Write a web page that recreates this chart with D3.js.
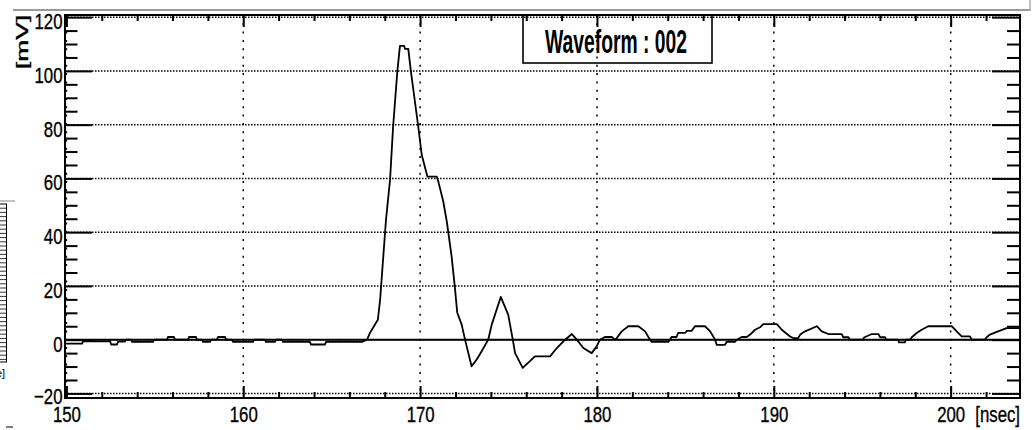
<!DOCTYPE html>
<html>
<head>
<meta charset="utf-8">
<script src="https://cdn.jsdelivr.net/npm/d3@7"></script>
<style>
  html, body { margin: 0; padding: 0; background: #fff; overflow: hidden; }
  svg { display: block; }
  text { font-family: "Liberation Sans", Arial, Helvetica, sans-serif; fill: #000; }
  text.lbl { stroke: #000; stroke-width: 0.35px; }
</style>
</head>
<body>
<svg id="canvas" width="1034" height="430"></svg>
<script>
// Sample times of the recorded waveform [nsec]
const waveTime = [
  149.92, 150.89, 150.94, 152.47, 152.53, 152.86, 152.92, 153.31, 153.37, 153.65,
  153.71, 154.90, 154.96, 155.69, 155.74, 156.08, 156.14, 156.88, 156.93, 157.33,
  157.38, 157.67, 157.72, 158.12, 158.17, 158.51, 158.57, 158.97, 159.03, 159.36,
  159.42, 160.55, 160.61, 161.23, 161.28, 161.79, 161.85, 162.19, 162.25, 163.77,
  163.83, 164.62, 164.68, 166.71, 167.00, 167.17, 167.61, 167.74, 168.07, 168.30,
  168.47, 168.71, 168.86, 169.10, 169.14, 169.33, 169.48, 169.90, 170.09, 170.41,
  170.94, 171.03, 171.31, 171.52, 171.78, 171.96, 172.10, 172.35, 172.54, 172.91,
  173.20, 173.48, 173.85, 174.05, 174.56, 174.98, 175.24, 175.37, 175.80, 176.21,
  176.49, 177.35, 177.73, 178.10, 178.58, 178.86, 179.23, 179.70, 179.98, 180.17,
  180.45, 180.84, 181.02, 181.12, 181.40, 181.77, 182.34, 182.72, 183.00, 183.10,
  184.03, 184.13, 184.22, 184.50, 184.59, 184.98, 185.08, 185.36, 185.54, 186.11,
  186.40, 186.68, 186.77, 187.24, 187.34, 187.80, 187.90, 188.19, 188.47, 188.66,
  188.94, 189.22, 189.40, 190.17, 190.45, 190.92, 191.10, 191.38, 191.49, 191.77,
  192.43, 192.71, 193.08, 193.84, 193.93, 194.22, 194.31, 195.04, 195.10, 195.54,
  195.91, 196.01, 196.29, 196.35, 197.02, 197.08, 197.41, 197.47, 197.71, 197.80,
  198.08, 198.36, 198.73, 200.06, 200.34, 200.62, 201.09, 201.20, 201.93, 202.05,
  202.22, 202.68, 203.16, 203.92
];
// Amplitude at each sample [mV]
const waveMilliVolt = [
  -1.5, -1.5, -0.6, -0.6, -1.8, -1.8, -0.7, -0.7, 0, 0,
  -0.8, -0.8, 0, 0, 1.0, 1.0, 0, 0, 1.0, 1.0,
  0, 0, -0.8, -0.8, 0, 0, 1.0, 1.0, 0, 0,
  -0.8, -0.8, 0, 0, -0.8, -0.8, 0, 0, -0.8, -0.8,
  -1.8, -1.8, -0.8, -0.8, 0, 2.6, 7.4, 15, 44.6, 59.5,
  79, 99.7, 109.3, 109.3, 108.2, 108.2, 99.7, 79, 68.8, 60.7,
  60.7, 58.8, 51.4, 43.5, 31, 19.8, 10, 5.6, 0, -9.9,
  -7.4, -4.3, 0, 5.6, 15.9, 9.3, 0, -5, -10.5, -8,
  -6.2, -6.2, -3.1, -0.6, 2.1, 0, -3.1, -5, -2.5, 0,
  1.0, 1.0, 0, 0.6, 3.1, 5, 5, 3.1, 0, -0.8,
  -0.8, 0, 1, 1, 2.5, 2.5, 3.3, 3.3, 5, 5,
  3.1, 0, -1.9, -1.9, -0.8, -0.8, 0, 1, 1, 1.9,
  3.7, 4.6, 5.8, 5.8, 3.7, 1.2, 0.6, 0.6, 1.9, 3.1,
  5, 3.1, 2.1, 2.1, 0.9, 0.9, 0, 0, 0.8, 2.1,
  2.1, 0.9, 0.9, 0, 0, -1, -1, 0, 0, 0.9,
  2.5, 3.7, 5, 5, 3.1, 1.2, 1.2, 0, 0, 1,
  1.9, 3.1, 4.3, 4.3
];

const xMajorTicks = [150, 160, 170, 180, 190, 200];
const xMinorTicks = [152, 154, 156, 158, 162, 164, 166, 168, 172, 174, 176, 178,
                     182, 184, 186, 188, 192, 194, 196, 198, 202];
const yMajorTicks = [-20, 0, 20, 40, 60, 80, 100, 120];
const yMinorTicks = [-15, -10, -5, 5, 10, 15, 25, 30, 35, 45, 50, 55, 65, 70, 75,
                     85, 90, 95, 105, 110, 115];
const xRange = [149.92, 203.92];
const yRange = [-21.7, 120.8];
const titleText = "Waveform : 002";
const xUnitText = "[nsec]";
const yUnitText = "[mV]";

const svg = d3.select("#canvas");
const frame = { left: 65, right: 1020, top: 15, bottom: 398 };
const labelScaleX = 0.78;

const x = d3.scaleLinear().domain(xRange).range([frame.left, frame.right]);
const y = d3.scaleLinear().domain(yRange).range([frame.bottom, frame.top]);

// --- surrounding canvas pieces (edges of the neighbouring pads) ---
const deco = svg.append("g");
deco.append("line").attr("x1", 13).attr("x2", 1031).attr("y1", 10).attr("y2", 10)
  .attr("stroke", "#9a9a9a").attr("stroke-width", 2);
deco.append("line").attr("x1", 1030).attr("x2", 1030).attr("y1", 0).attr("y2", 11)
  .attr("stroke", "#b0b0b0").attr("stroke-width", 1.5);
deco.append("line").attr("x1", 0).attr("x2", 15).attr("y1", 201).attr("y2", 201)
  .attr("stroke", "#9a9a9a").attr("stroke-width", 1.2);
deco.append("rect").attr("x", -2).attr("y", 204).attr("width", 8.5).attr("height", 158)
  .attr("fill", "none").attr("stroke", "#000").attr("stroke-width", 1);
deco.selectAll("line.row").data(d3.range(1, 38)).join("line").attr("class", "row")
  .attr("x1", 0).attr("x2", 6.5)
  .attr("y1", i => 204 + i * 4.2).attr("y2", i => 204 + i * 4.2)
  .attr("stroke", "#000").attr("stroke-width", 0.8);
deco.append("text").attr("x", -4).attr("y", 377).attr("font-size", 11).text("e]");
deco.append("line").attr("x1", 6).attr("x2", 13).attr("y1", 427).attr("y2", 427)
  .attr("stroke", "#555").attr("stroke-width", 1.5);

// --- dotted grid at the major ticks ---
const grid = svg.append("g");
grid.selectAll("line.gx").data(xMajorTicks).join("line").attr("class", "gx")
  .attr("x1", d => x(d)).attr("x2", d => x(d))
  .attr("y1", frame.top).attr("y2", frame.bottom)
  .attr("stroke", "#000").attr("stroke-width", 1.5).attr("stroke-dasharray", "2,6.3");
grid.selectAll("line.gy").data(yMajorTicks).join("line").attr("class", "gy")
  .attr("x1", frame.left).attr("x2", frame.right)
  .attr("y1", d => y(d)).attr("y2", d => y(d))
  .attr("stroke", "#000").attr("stroke-width", 1.5).attr("stroke-dasharray", "1.5,1.5");

// --- zero reference line ---
svg.append("line")
  .attr("x1", frame.left).attr("x2", frame.right)
  .attr("y1", y(0)).attr("y2", y(0))
  .attr("stroke", "#000").attr("stroke-width", 2);

// --- waveform ---
svg.append("clipPath").attr("id", "frameClip").append("rect")
  .attr("x", frame.left).attr("y", frame.top)
  .attr("width", frame.right - frame.left).attr("height", frame.bottom - frame.top);

const samples = waveTime.map((t, i) => ({ t, v: waveMilliVolt[i] }));
svg.append("path")
  .datum(samples)
  .attr("clip-path", "url(#frameClip)")
  .attr("fill", "none").attr("stroke", "#000").attr("stroke-width", 1.8)
  .attr("stroke-linejoin", "round")
  .attr("d", d3.line().x(d => x(d.t)).y(d => y(d.v)));

// --- axes: ticks on all four sides, pointing into the frame ---
function styleAxis(g) {
  g.select(".domain").remove();
  g.selectAll(".tick line").attr("stroke", "#000").attr("stroke-width", 2);
}

// left: labels + long major ticks
const leftMajor = svg.append("g").attr("transform", `translate(${frame.left},0)`)
  .call(d3.axisLeft(y).tickValues(yMajorTicks).tickSizeInner(-27).tickSizeOuter(0)
    .tickPadding(0).tickFormat(d => d < 0 ? "\u2212" + Math.abs(d) : String(d)));
styleAxis(leftMajor);
leftMajor.selectAll(".tick text")
  .attr("class", "lbl")
  .attr("x", 0).attr("dy", "0.35em")
  .attr("font-size", 21.5)
  .attr("text-anchor", "end")
  .attr("transform", d => `translate(-2.5,${d === yMajorTicks[0] ? 2.5 : 4}) scale(${labelScaleX},1)`);

const leftMinor = svg.append("g").attr("transform", `translate(${frame.left},0)`)
  .call(d3.axisLeft(y).tickValues(yMinorTicks).tickSizeInner(-12.5).tickSizeOuter(0)
    .tickFormat(""));
styleAxis(leftMinor);

// right
const rightMajor = svg.append("g").attr("transform", `translate(${frame.right},0)`)
  .call(d3.axisRight(y).tickValues(yMajorTicks).tickSizeInner(-28).tickSizeOuter(0)
    .tickFormat(""));
styleAxis(rightMajor);
const rightMinor = svg.append("g").attr("transform", `translate(${frame.right},0)`)
  .call(d3.axisRight(y).tickValues(yMinorTicks).tickSizeInner(-13).tickSizeOuter(0)
    .tickFormat(""));
styleAxis(rightMinor);

// bottom: labels + ticks
const bottomMajor = svg.append("g").attr("transform", `translate(0,${frame.bottom})`)
  .call(d3.axisBottom(x).tickValues(xMajorTicks).tickSizeInner(-12).tickSizeOuter(0)
    .tickPadding(0).tickFormat(d3.format("d")));
styleAxis(bottomMajor);
bottomMajor.selectAll(".tick text")
  .attr("class", "lbl")
  .attr("y", 0).attr("dy", null)
  .attr("font-size", 21.5)
  .attr("text-anchor", "middle")
  .attr("transform", `translate(0,23.5) scale(${labelScaleX},1)`);

const bottomMinor = svg.append("g").attr("transform", `translate(0,${frame.bottom})`)
  .call(d3.axisBottom(x).tickValues(xMinorTicks).tickSizeInner(-6).tickSizeOuter(0)
    .tickFormat(""));
styleAxis(bottomMinor);

// top
const topMajor = svg.append("g").attr("transform", `translate(0,${frame.top})`)
  .call(d3.axisTop(x).tickValues(xMajorTicks).tickSizeInner(-12).tickSizeOuter(0)
    .tickFormat(""));
styleAxis(topMajor);
const topMinor = svg.append("g").attr("transform", `translate(0,${frame.top})`)
  .call(d3.axisTop(x).tickValues(xMinorTicks).tickSizeInner(-6).tickSizeOuter(0)
    .tickFormat(""));
styleAxis(topMinor);

// --- frame ---
svg.append("rect")
  .attr("x", frame.left).attr("y", frame.top)
  .attr("width", frame.right - frame.left).attr("height", frame.bottom - frame.top)
  .attr("fill", "none").attr("stroke", "#000").attr("stroke-width", 2);

// --- title box ---
const titleBox = { x0: 523, x1: 712, y0: frame.top, y1: 63 };
svg.append("rect")
  .attr("x", titleBox.x0).attr("y", titleBox.y0)
  .attr("width", titleBox.x1 - titleBox.x0).attr("height", titleBox.y1 - titleBox.y0)
  .attr("fill", "none").attr("stroke", "#000").attr("stroke-width", 1.6);
svg.append("text")
  .attr("x", 545).attr("y", 53)
  .attr("font-size", 34).attr("font-weight", "bold")
  .attr("textLength", 142).attr("lengthAdjust", "spacingAndGlyphs")
  .text(titleText);

// --- axis units ---
svg.append("text")
  .attr("class", "lbl")
  .attr("transform", `translate(28,15) rotate(-90)`)
  .attr("text-anchor", "end")
  .attr("font-size", 16.5)
  .attr("textLength", 54).attr("lengthAdjust", "spacingAndGlyphs")
  .text(yUnitText);
svg.append("text")
  .attr("class", "lbl")
  .attr("transform", `translate(${frame.right},421.5) scale(${labelScaleX},1)`)
  .attr("text-anchor", "end")
  .attr("font-size", 21.5)
  .text(xUnitText);
</script>
</body>
</html>
